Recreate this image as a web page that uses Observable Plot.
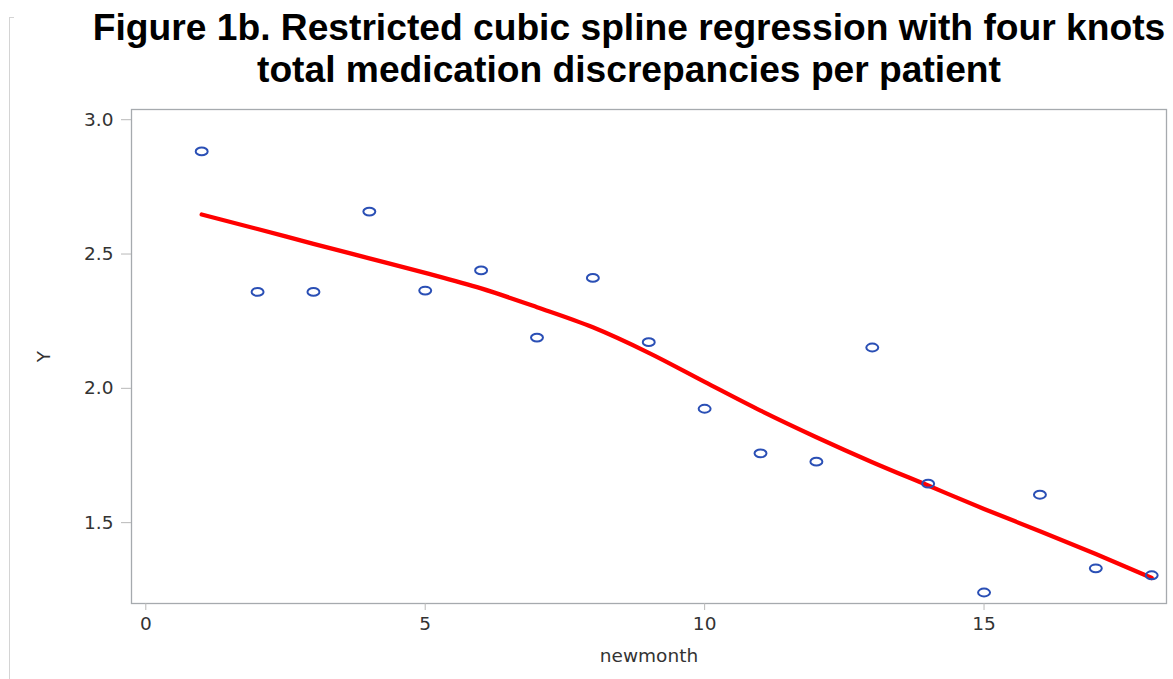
<!DOCTYPE html>
<html>
<head>
<meta charset="utf-8">
<script src="https://cdn.jsdelivr.net/npm/d3@7"></script>
<script src="https://cdn.jsdelivr.net/npm/@observablehq/plot@0.6"></script>
<style>
  html, body { margin: 0; padding: 0; background: #fff; overflow: hidden; }
  #page { position: relative; width: 1173px; height: 679px; }
  #edge { position: absolute; left: 9px; top: 17px; width: 4px; height: 662px;
          border-left: 1px solid #d4d4d4; border-top: 1px solid #d4d4d4; }
  #title { position: relative; height: 100px; }
  #title div { position: absolute; left: 629px; transform: translateX(-50%); white-space: nowrap;
               font-family: "Liberation Sans", Arial, sans-serif; font-weight: bold; font-size: 37.2px;
               line-height: 42px; color: #000; text-align: center; }
  #chart svg { display: block; }
</style>
</head>
<body>
<div id="page">
  <div id="edge"></div>
  <div id="title"><div style="top:6px">Figure 1b. Restricted cubic spline regression with four knots<br>total medication discrepancies per patient</div></div>
  <div id="chart"></div>
</div>
<script>
// Data
const months   = [1, 2, 3, 4, 5, 6, 7, 8, 9, 10, 11, 12, 13, 14, 15, 16, 17, 18];
const observed = [2.882, 2.359, 2.359, 2.658, 2.364, 2.439, 2.189, 2.411, 2.172, 1.924, 1.758, 1.727, 2.152, 1.645, 1.240, 1.604, 1.330, 1.304];
const fitted   = [2.647, 2.593, 2.538, 2.484, 2.430, 2.372, 2.302, 2.227, 2.132, 2.024, 1.917, 1.818, 1.725, 1.638, 1.551, 1.468, 1.383, 1.294];
const xTicks = [0, 5, 10, 15];
const yTicks = [1.5, 2.0, 2.5, 3.0];

const rows = months.map((m, i) => ({newmonth: m, y: observed[i], fit: fitted[i]}));

// open ellipse marker (the reference's markers are wider than tall)
const ellipse = {
  draw(ctx, size) {
    const r = Math.sqrt(size / Math.PI);
    const rx = r * 1.22, ry = r * 0.8, k = 0.5523;
    ctx.moveTo(rx, 0);
    ctx.bezierCurveTo(rx, k * ry, k * rx, ry, 0, ry);
    ctx.bezierCurveTo(-k * rx, ry, -rx, k * ry, -rx, 0);
    ctx.bezierCurveTo(-rx, -k * ry, -k * rx, -ry, 0, -ry);
    ctx.bezierCurveTo(k * rx, -ry, rx, -k * ry, rx, 0);
    ctx.closePath();
  }
};

const chart = Plot.plot({
  width: 1173,
  height: 579,
  marginLeft: 131,
  marginRight: 7,
  marginTop: 9,
  marginBottom: 76,
  style: {fontFamily: "'DejaVu Sans', sans-serif", fontSize: "18px", color: "#333", background: "#fff"},
  x: {domain: [-0.256, 18.265]},
  y: {domain: [1.199, 3.038]},
  marks: [
    Plot.frame({stroke: "#a6aaae", strokeWidth: 1.3}),
    Plot.axisX({ticks: xTicks, tickSize: 7, tickPadding: 6, stroke: "#b8b8b8", color: "#333",
                fontSize: 18.5, label: "newmonth", labelAnchor: "center", labelOffset: 58, labelArrow: "none"}),
    Plot.axisY({ticks: yTicks, tickSize: 10, tickPadding: 8, stroke: "#b8b8b8", color: "#333",
                fontSize: 18.5, tickFormat: ".1f", label: "Y", labelAnchor: "center", labelOffset: 95, labelArrow: "none"}),
    Plot.line(rows, {x: "newmonth", y: "fit", stroke: "#ff0000", strokeWidth: 4.3, curve: "monotone-x"}),
    Plot.dot(rows, {x: "newmonth", y: "y", r: 4.9, symbol: ellipse, stroke: "#2a4fb5", strokeWidth: 2, fill: "none"})
  ]
});
document.getElementById("chart").appendChild(chart);
</script>
</body>
</html>
